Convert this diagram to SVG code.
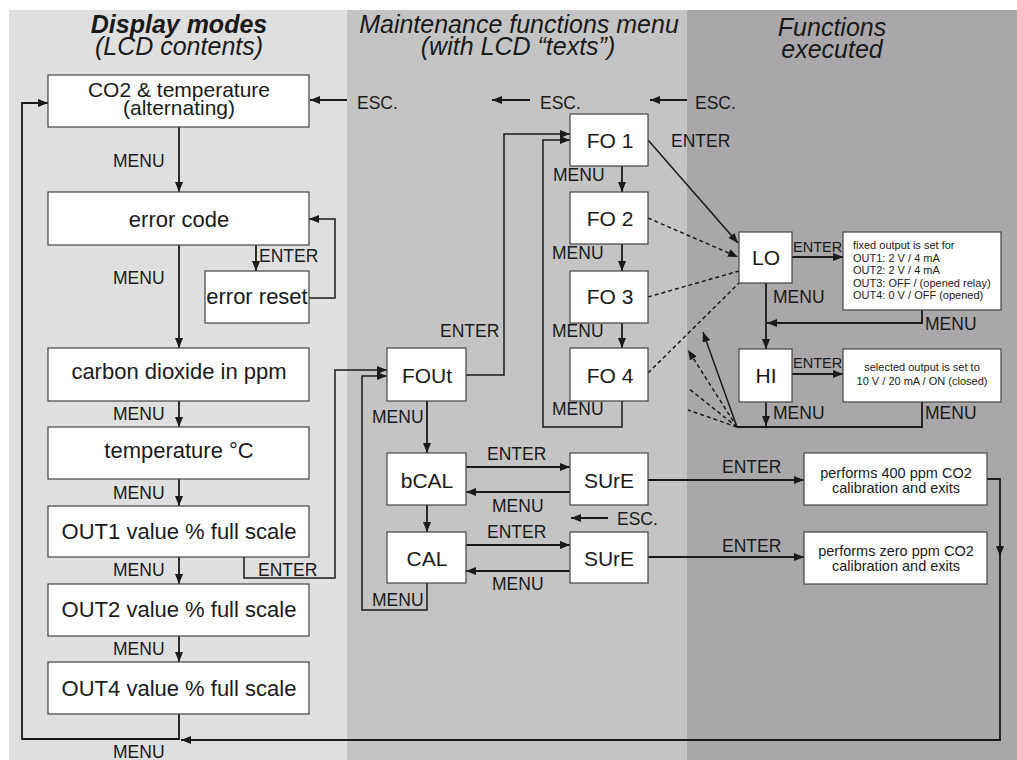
<svg xmlns="http://www.w3.org/2000/svg" width="1017" height="760" viewBox="0 0 1017 760">
<defs>
<marker id="ar" markerUnits="userSpaceOnUse" markerWidth="11" markerHeight="9" refX="10" refY="4" orient="auto"><path d="M0,0 L10,4 L0,8 z" fill="#1a1a1a"/></marker>
<style>
text{font-family:"Liberation Sans",Arial,sans-serif;fill:#1a1a1a}
.h{font-size:25px;font-style:italic;text-anchor:middle}
.hb{font-weight:bold}
.b{font-size:22px;text-anchor:middle}
.n{font-size:21px;text-anchor:middle}
.l{font-size:17.5px}
.le{font-size:14.5px}
.s{font-size:11px}
.sc{font-size:11px;text-anchor:middle}
.p{font-size:14.5px;text-anchor:middle}
.box{fill:#fff;stroke:#444;stroke-width:1.2}
.c{fill:none;stroke:#1a1a1a;stroke-width:1.8}
.t{fill:none;stroke:#1a1a1a;stroke-width:1.5}
.d{fill:none;stroke:#1a1a1a;stroke-width:1.5;stroke-dasharray:4 3}
.a{marker-end:url(#ar)}
</style>
</defs>
<rect x="0" y="0" width="1017" height="760" fill="#fff"/>
<rect x="9" y="10" width="339" height="750" fill="#dfdfdf"/>
<rect x="347" y="10" width="340" height="750" fill="#c4c4c4"/>
<rect x="687" y="10" width="330" height="750" fill="#a9a7a9"/>

<g id="headers">
<text class="h" x="179" y="33"><tspan class="hb">Display modes</tspan><tspan x="179" dy="22">(LCD contents)</tspan></text>
<text class="h" x="519" y="33">Maintenance functions menu<tspan x="518" dy="22">(with LCD “texts”)</tspan></text>
<text class="h" x="832" y="36">Functions<tspan x="832" dy="22">executed</tspan></text>
</g>

<g id="connectors">
<path class="c a" d="M179,127 V192"/>
<path class="c a" d="M179,245 V348"/>
<path class="c a" d="M256,245 V271"/>
<path class="t a" d="M309,298 H335 V219 H309"/>
<path class="c a" d="M179,401 V427"/>
<path class="c a" d="M179,479 V506"/>
<path class="c a" d="M179,557 V584"/>
<path class="c a" d="M179,636 V662"/>
<path class="c a" d="M179,714 V739 H22 V103 H48"/>
<path class="t a" d="M244,557 V578 H335 V370 H387"/>
<path class="c a" d="M347,100 H310"/>
<path class="c a" d="M530,100 H492"/>
<path class="c a" d="M687,100 H650"/>
<path class="t a" d="M466,375 H504 V134 H570"/>
<path class="c a" d="M622,166 V192"/>
<path class="c a" d="M622,244 V271"/>
<path class="c a" d="M622,323 V348"/>
<path class="t a" d="M622,401 V427 H543 V140 H570"/>
<path class="c a" d="M427,401 V453"/>
<path class="c a" d="M466,467 H570"/>
<path class="c a" d="M570,492 H466"/>
<path class="c a" d="M427,505 V532"/>
<path class="c a" d="M608,518 H571"/>
<path class="c a" d="M466,545 H570"/>
<path class="c a" d="M570,571 H466"/>
<path class="t a" d="M427,583 V610 H362 V376 H387"/>
<path class="c a" d="M648,480 H804"/>
<path class="c a" d="M648,557 H804"/>
<path class="c a" d="M987,479 H1000 V556"/>
<path class="c a" d="M1000,554 V740 H181"/>
<path class="t a" d="M648,140 L738,243"/>
<path class="d a" d="M648,218 L738,257"/>
<path class="d" d="M648,297 L739,271"/>
<path class="d" d="M648,373 L739,283"/>
<path class="c a" d="M792,257 H843"/>
<path class="c a" d="M766,283 V349"/>
<path class="c a" d="M922,310 V323 H767"/>
<path class="c a" d="M792,374 H843"/>
<path class="c a" d="M766,402 V426"/>
<path class="c" d="M922,402 V427 H737"/>
<path class="t a" d="M737,427 L703,332"/>
<path class="d a" d="M737,427 L688,350"/>
<path class="d" d="M737,427 L688,388"/>
<path class="d" d="M737,427 L688,410"/>
</g>

<g id="labels">
<text class="l" x="113" y="167">MENU</text>
<text class="l" x="113" y="284">MENU</text>
<text class="l" x="113" y="420">MENU</text>
<text class="l" x="113" y="499">MENU</text>
<text class="l" x="113" y="575.5">MENU</text>
<text class="l" x="113" y="655">MENU</text>
<text class="l" x="113" y="758">MENU</text>
<text class="l" x="259" y="261.5">ENTER</text>
<text class="l" x="258" y="575.5">ENTER</text>
<text class="l" x="357" y="108.5">ESC.</text>
<text class="l" x="540" y="108.5">ESC.</text>
<text class="l" x="695" y="108.5">ESC.</text>
<text class="l" x="671" y="146.5">ENTER</text>
<text class="l" x="553" y="181">MENU</text>
<text class="l" x="552" y="259">MENU</text>
<text class="l" x="552" y="336.5">MENU</text>
<text class="l" x="552" y="415">MENU</text>
<text class="l" x="440" y="336.5">ENTER</text>
<text class="l" x="372" y="423">MENU</text>
<text class="l" x="487" y="460">ENTER</text>
<text class="l" x="492" y="511.5">MENU</text>
<text class="l" x="617" y="525">ESC.</text>
<text class="l" x="487" y="538">ENTER</text>
<text class="l" x="492" y="590">MENU</text>
<text class="l" x="372" y="606">MENU</text>
<text class="l" x="722" y="472.5">ENTER</text>
<text class="l" x="722" y="551.5">ENTER</text>
<text class="le" x="793" y="251.5">ENTER</text>
<text class="le" x="793" y="368">ENTER</text>
<text class="l" x="773" y="303">MENU</text>
<text class="l" x="925" y="330">MENU</text>
<text class="l" x="773" y="419">MENU</text>
<text class="l" x="925" y="419">MENU</text>
</g>

<g id="co2"><rect class="box" x="48" y="75" width="261" height="52"/><text class="b" style="font-size:21px" x="179" y="97">CO2 &amp; temperature<tspan x="179" dy="18">(alternating)</tspan></text></g>
<g id="error-code"><rect class="box" x="48" y="192" width="261" height="53"/><text class="b" x="179" y="227">error code</text></g>
<g id="error-reset"><rect class="box" x="205" y="271" width="104" height="52"/><text class="b" x="257" y="303.5">error reset</text></g>
<g id="co2-ppm"><rect class="box" x="48" y="348" width="261" height="53"/><text class="b" x="179" y="379">carbon dioxide in ppm</text></g>
<g id="temperature"><rect class="box" x="48" y="427" width="261" height="52"/><text class="b" x="179" y="458">temperature °C</text></g>
<g id="out1"><rect class="box" x="48" y="506" width="261" height="51"/><text class="b" x="179" y="539">OUT1 value % full scale</text></g>
<g id="out2"><rect class="box" x="48" y="584" width="261" height="52"/><text class="b" x="179" y="617">OUT2 value % full scale</text></g>
<g id="out4"><rect class="box" x="48" y="662" width="261" height="52"/><text class="b" x="179" y="696">OUT4 value % full scale</text></g>

<g id="fout"><rect class="box" x="387" y="348" width="79" height="53"/><text class="n" x="427" y="382.5">FOUt</text></g>
<g id="fo1"><rect class="box" x="570" y="114" width="78" height="52"/><text class="n" x="610" y="148">FO 1</text></g>
<g id="fo2"><rect class="box" x="570" y="192" width="78" height="52"/><text class="n" x="610" y="226">FO 2</text></g>
<g id="fo3"><rect class="box" x="570" y="271" width="78" height="52"/><text class="n" x="610" y="304">FO 3</text></g>
<g id="fo4"><rect class="box" x="570" y="348" width="78" height="53"/><text class="n" x="610" y="382.5">FO 4</text></g>
<g id="bcal"><rect class="box" x="387" y="453" width="79" height="52"/><text class="n" x="427" y="488">bCAL</text></g>
<g id="cal"><rect class="box" x="387" y="532" width="79" height="51"/><text class="n" x="427" y="566">CAL</text></g>
<g id="sure1"><rect class="box" x="570" y="453" width="78" height="52"/><text class="n" x="609" y="488">SUrE</text></g>
<g id="sure2"><rect class="box" x="570" y="532" width="78" height="51"/><text class="n" x="609" y="566">SUrE</text></g>

<g id="lo"><rect class="box" x="739" y="232" width="53" height="51"/><text class="n" x="766" y="265">LO</text></g>
<g id="hi"><rect class="box" x="739" y="349" width="53" height="53"/><text class="n" x="766" y="383">HI</text></g>
<g id="fixed-output"><rect class="box" x="843" y="232" width="158" height="78"/>
<text class="s" x="853" y="249">fixed output is set for<tspan x="853" dy="12.5">OUT1: 2 V / 4 mA</tspan><tspan x="853" dy="12.5">OUT2: 2 V / 4 mA</tspan><tspan x="853" dy="12.5">OUT3: OFF / (opened relay)</tspan><tspan x="853" dy="12.5">OUT4: 0 V / OFF (opened)</tspan></text></g>
<g id="selected-output"><rect class="box" x="843" y="349" width="158" height="53"/>
<text class="sc" x="922" y="371">selected output is set to<tspan x="922" dy="14">10 V / 20 mA / ON (closed)</tspan></text></g>
<g id="cal400"><rect class="box" x="804" y="453" width="183" height="52"/><text class="p" x="896" y="478">performs 400 ppm CO2<tspan x="896" dy="15">calibration and exits</tspan></text></g>
<g id="cal0"><rect class="box" x="804" y="532" width="183" height="52"/><text class="p" x="896" y="556">performs zero ppm CO2<tspan x="896" dy="15">calibration and exits</tspan></text></g>
</svg>
